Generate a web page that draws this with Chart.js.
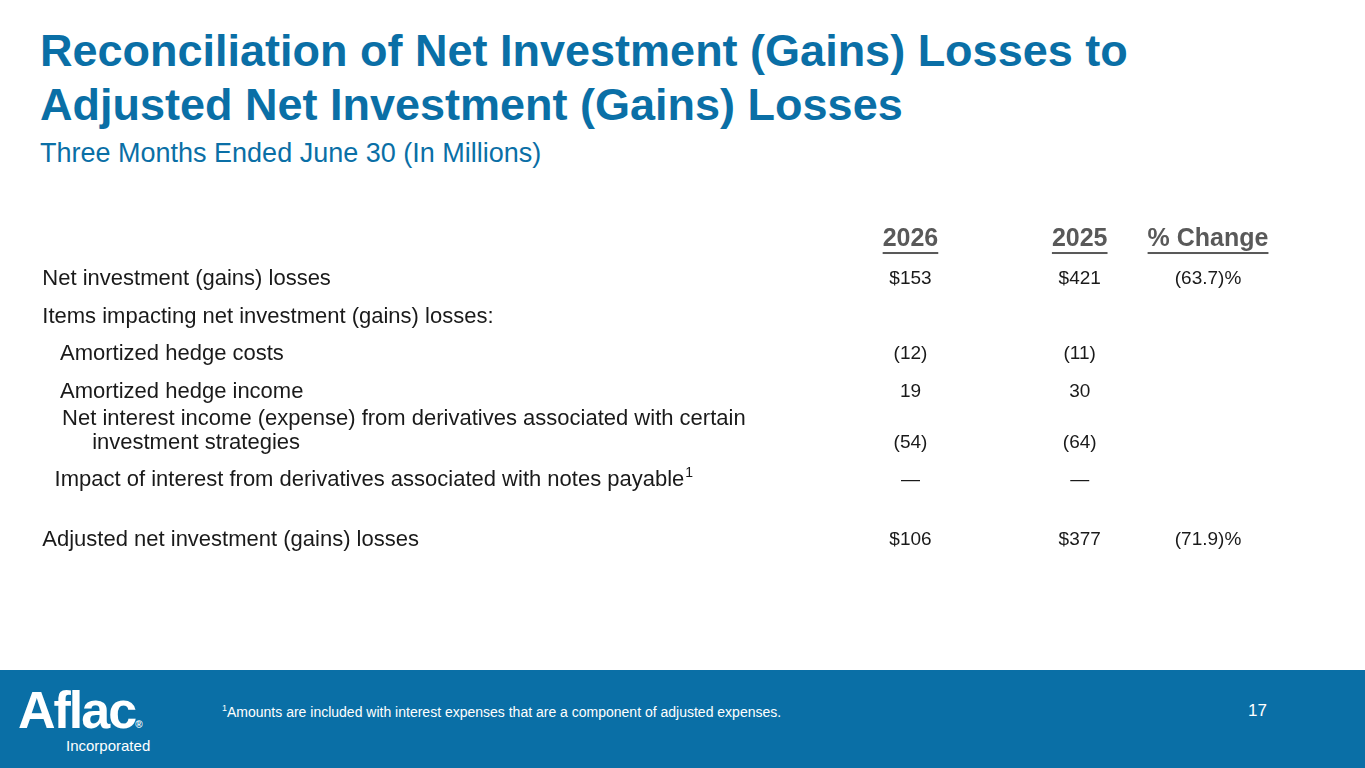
<!DOCTYPE html>
<html><head><meta charset="utf-8">
<script src="https://cdn.jsdelivr.net/npm/chart.js@4/dist/chart.umd.min.js"></script>
<style>
body{margin:0;width:1365px;height:768px;overflow:hidden;background:#fff;font-family:"Liberation Sans",Arial,sans-serif;position:relative}
h1{position:absolute;left:40px;top:24px;margin:0;font-size:45px;line-height:54px;color:#0a6fa6;font-weight:bold}
.sub{position:absolute;left:40px;top:138px;font-size:27px;color:#0a6fa6}
#wrap{position:absolute;left:0;top:200px;width:1365px;height:380px}
.foot{position:absolute;left:0;top:670px;width:1365px;height:98px;background:#0a6fa6;color:#fff}
.logo{position:absolute;left:18px;top:10px;font-size:52px;font-weight:bold;letter-spacing:-2px}
.inc{position:absolute;left:66px;top:67px;font-size:15px}
.note{position:absolute;left:222px;top:33px;font-size:14px}
.pg{position:absolute;left:1248px;top:31px;font-size:17px}
</style></head><body>
<h1>Reconciliation of Net Investment (Gains) Losses to<br>Adjusted Net Investment (Gains) Losses</h1>
<div class="sub">Three Months Ended June 30 (In Millions)</div>
<div id="wrap"><canvas id="c" width="1365" height="380"></canvas></div>
<div class="foot"><div class="logo">Aflac<span style="font-size:10px;letter-spacing:0">®</span></div><div class="inc">Incorporated</div>
<div class="note"><sup style="font-size:9px">1</sup>Amounts are included with interest expenses that are a component of adjusted expenses.</div>
<div class="pg">17</div></div>
<script>
const headers = ['2026', '2025', '% Change'];
const rowLabels = [
  ['Net investment (gains) losses'],
  ['Items impacting net investment (gains) losses:'],
  ['Amortized hedge costs'],
  ['Amortized hedge income'],
  ['Net interest income (expense) from derivatives associated with certain', 'investment strategies'],
  ['Impact of interest from derivatives associated with notes payable'],
  ['Adjusted net investment (gains) losses']
];
const rowPos = [1.03, 2.0, 2.95, 3.92, 4.92, 6.18, 7.72];
const valuePos = [1.03, 2.0, 2.95, 3.92, 5.23, 6.18, 7.72];
const indent = [3.1, 3.1, 4.4, 4.4, 4.55, 4.0, 3.1];
const values2026 = ['$153', '', '(12)', '19', '(54)', '—', '$106'];
const values2025 = ['$421', '', '(11)', '30', '(64)', '—', '$377'];
const pctChange = ['(63.7)%', '', '', '', '', '', '(71.9)%'];
const colPos = [66.7, 79.1, 88.5];

const tablePlugin = {
  id: 'table',
  afterDraw(chart) {
    const ctx = chart.ctx, x = chart.scales.x, y = chart.scales.y;
    const body = '22px "Liberation Sans", Arial';
    ctx.save();
    ctx.textBaseline = 'middle';
    ctx.textAlign = 'center';
    ctx.fillStyle = '#595959';
    ctx.font = 'bold 25px "Liberation Sans", Arial';
    headers.forEach((h, i) => {
      const cx = x.getPixelForValue(colPos[i]), cy = y.getPixelForValue(0);
      ctx.fillText(h, cx, cy);
      const w = ctx.measureText(h).width;
      ctx.fillRect(cx - w / 2, cy + 13, w, 2);
    });
    ctx.fillStyle = '#1a1a1a';
    rowLabels.forEach((lines, i) => {
      ctx.font = body;
      ctx.textAlign = 'left';
      const cy = y.getPixelForValue(rowPos[i]);
      if (lines.length === 2) {
        ctx.fillText(lines[0], x.getPixelForValue(indent[i]), cy - 12);
        ctx.fillText(lines[1], x.getPixelForValue(indent[i] + 2.2), cy + 12);
      } else {
        ctx.fillText(lines[0], x.getPixelForValue(indent[i]), cy);
        if (i === 5) {
          const w = ctx.measureText(lines[0]).width;
          ctx.font = '14px "Liberation Sans", Arial';
          ctx.fillText('1', x.getPixelForValue(indent[i]) + w + 1, cy - 7);
        }
      }
      ctx.textAlign = 'center';
      ctx.font = '19px "Liberation Sans", Arial';
      const vy = y.getPixelForValue(valuePos[i]);
      [values2026, values2025, pctChange].forEach((arr, c) => {
        if (arr[i]) ctx.fillText(arr[i], x.getPixelForValue(colPos[c]), vy);
      });
    });
    ctx.restore();
  }
};

new Chart(document.getElementById('c'), {
  type: 'scatter',
  data: { datasets: [{ data: [] }] },
  options: {
    responsive: false, animation: false,
    plugins: { legend: { display: false }, tooltip: { enabled: false } },
    layout: { padding: 0 },
    scales: {
      x: { display: false, min: 0, max: 100 },
      y: { display: false, min: -1, max: 8.74, reverse: true }
    }
  },
  plugins: [tablePlugin]
});
</script>
</body></html>
